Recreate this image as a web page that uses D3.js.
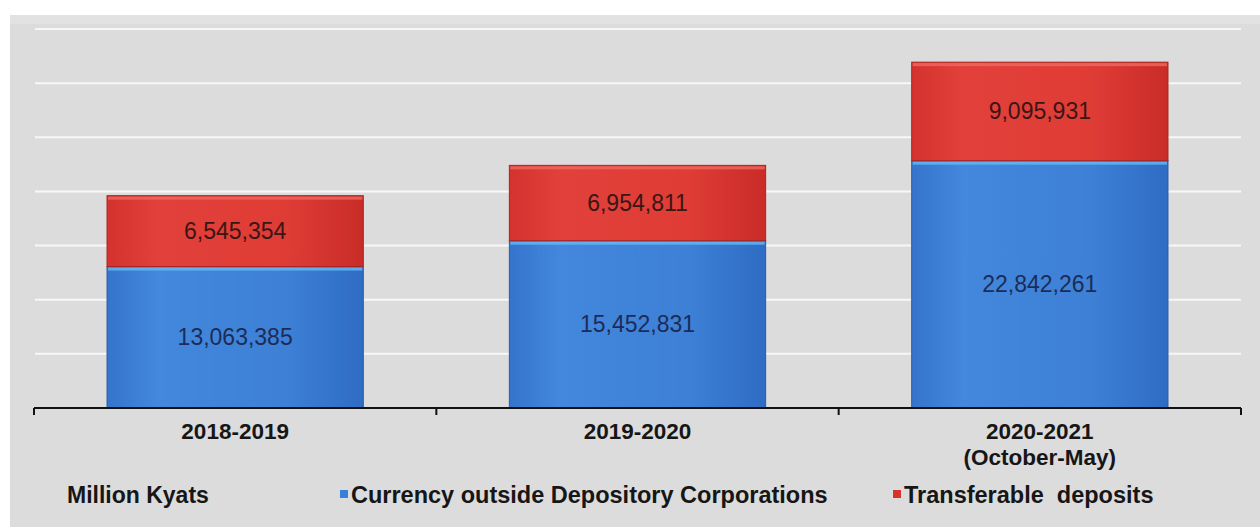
<!DOCTYPE html>
<html>
<head>
<meta charset="utf-8">
<script src="https://cdn.jsdelivr.net/npm/d3@7"></script>
<style>
  body { margin: 0; background: #ffffff; }
  text { font-family: Arial, "Liberation Sans", sans-serif; }
</style>
</head>
<body>
<script>
const categories = ["2018-2019", "2019-2020", "2020-2021"];
const categorySub = ["", "", "(October-May)"];
const currency = [13063385, 15452831, 22842261];
const transferable = [6545354, 6954811, 9095931];
const yTicks = [5000000, 10000000, 15000000, 20000000, 25000000, 30000000, 35000000];
const seriesNames = ["Currency outside Depository Corporations", "Transferable  deposits"];
const unitLabel = "Million Kyats";

const width = 1260,
    height = 527;

const svg = d3.select("body").append("svg")
    .attr("width", width)
    .attr("height", height);

const defs = svg.append("defs");

const blueGrad = defs.append("linearGradient")
    .attr("id", "blueGrad")
    .attr("x1", 0).attr("y1", 0).attr("x2", 1).attr("y2", 0);
blueGrad.append("stop").attr("offset", "0%").attr("stop-color", "#3574cc");
blueGrad.append("stop").attr("offset", "20%").attr("stop-color", "#4388dc");
blueGrad.append("stop").attr("offset", "70%").attr("stop-color", "#3d80d6");
blueGrad.append("stop").attr("offset", "100%").attr("stop-color", "#2f6cc4");

const redGrad = defs.append("linearGradient")
    .attr("id", "redGrad")
    .attr("x1", 0).attr("y1", 0).attr("x2", 1).attr("y2", 0);
redGrad.append("stop").attr("offset", "0%").attr("stop-color", "#d4322e");
redGrad.append("stop").attr("offset", "20%").attr("stop-color", "#e2403a");
redGrad.append("stop").attr("offset", "70%").attr("stop-color", "#df3c36");
redGrad.append("stop").attr("offset", "100%").attr("stop-color", "#c92c28");

// grey panel
svg.append("rect")
    .attr("x", 10)
    .attr("y", 15)
    .attr("width", width - 10)
    .attr("height", height - 15)
    .attr("fill", "#dcdcdc");

svg.append("rect")
    .attr("x", 10)
    .attr("y", 15)
    .attr("width", width - 10)
    .attr("height", 9)
    .attr("fill", "#e2e2e2");

const x = d3.scaleBand()
    .domain(categories)
    .range([34, 1241])
    .paddingInner(0.363)
    .paddingOuter(0.1815);

const y = d3.scaleLinear()
    .domain([0, 35000000])
    .range([408, 29]);

const step = x.step();

// gridlines
svg.append("g")
    .selectAll("line")
    .data(yTicks)
    .enter().append("line")
    .attr("x1", 35)
    .attr("x2", 1241)
    .attr("y1", d => y(d))
    .attr("y2", d => y(d))
    .attr("stroke", "#f7f7f7")
    .attr("stroke-width", 2);

const rows = categories.map((c, i) => ({cat: c, currency: currency[i], transferable: transferable[i]}));
const stacked = d3.stack().keys(["currency", "transferable"])(rows);
const fills = {currency: "url(#blueGrad)", transferable: "url(#redGrad)"};
const edges = {currency: "#2a5aa8", transferable: "#a82520"};
const highlight = {currency: "#6ab8f4", transferable: "#ee6a62"};
const labelColor = {currency: "#1c2c58", transferable: "#3a1614"};

const layers = svg.append("g")
    .selectAll("g")
    .data(stacked)
    .enter().append("g");

layers.selectAll("rect.bar")
    .data(d => d.map(p => ({key: d.key, p: p})))
    .enter().append("rect")
    .attr("class", "bar")
    .attr("x", d => x(d.p.data.cat))
    .attr("width", x.bandwidth())
    .attr("y", d => y(d.p[1]))
    .attr("height", d => y(d.p[0]) - y(d.p[1]))
    .attr("fill", d => fills[d.key])
    .attr("stroke", d => edges[d.key])
    .attr("stroke-width", 1);

// top highlight strip on each segment
layers.selectAll("rect.hl")
    .data(d => d.map(p => ({key: d.key, p: p})))
    .enter().append("rect")
    .attr("class", "hl")
    .attr("x", d => x(d.p.data.cat) + 1)
    .attr("width", x.bandwidth() - 2)
    .attr("y", d => y(d.p[1]) + 1)
    .attr("height", 3)
    .attr("fill", d => highlight[d.key])
    .attr("opacity", 0.8);

layers.selectAll("text")
    .data(d => d.map(p => ({key: d.key, p: p})))
    .enter().append("text")
    .attr("x", d => x(d.p.data.cat) + x.bandwidth() / 2)
    .attr("y", d => (y(d.p[0]) + y(d.p[1])) / 2)
    .attr("dy", "0.35em")
    .attr("text-anchor", "middle")
    .style("font-size", "23px")
    .style("fill", d => labelColor[d.key])
    .text(d => d3.format(",")(d.p.data[d.key]));

// x axis
const axis = svg.append("g");
axis.append("line")
    .attr("x1", 34)
    .attr("x2", 1241)
    .attr("y1", 408)
    .attr("y2", 408)
    .attr("stroke", "#111")
    .attr("stroke-width", 2);

const tickXs = categories.map(c => x(c) - x.paddingInner() * step / 2)
    .concat([x(categories[categories.length - 1]) + x.bandwidth() + x.paddingInner() * step / 2]);

axis.selectAll("line.tick")
    .data(tickXs)
    .enter().append("line")
    .attr("class", "tick")
    .attr("x1", d => d)
    .attr("x2", d => d)
    .attr("y1", 408)
    .attr("y2", 415)
    .attr("stroke", "#111")
    .attr("stroke-width", 2);

// category labels, second line as a separate text
axis.selectAll("text.cat")
    .data(categories)
    .enter().append("text")
    .attr("class", "cat")
    .attr("x", d => x(d) + x.bandwidth() / 2)
    .attr("y", 439)
    .attr("text-anchor", "middle")
    .style("font-size", "22.5px")
    .style("font-weight", "bold")
    .style("fill", "#161616")
    .text(d => d);

axis.selectAll("text.sub")
    .data(categories.filter((d, i) => categorySub[i] !== ""))
    .enter().append("text")
    .attr("class", "sub")
    .attr("x", d => x(d) + x.bandwidth() / 2)
    .attr("y", 465)
    .attr("text-anchor", "middle")
    .style("font-size", "22.5px")
    .style("font-weight", "bold")
    .style("fill", "#161616")
    .text(d => categorySub[categories.indexOf(d)]);

// legend
const legend = svg.append("g");

legend.append("text")
    .attr("x", 67)
    .attr("y", 503)
    .style("font-size", "23px")
    .style("font-weight", "bold")
    .style("fill", "#161616")
    .text(unitLabel);

const legendX = [340, 893];
const legendColors = ["#3a7fd5", "#d8322d"];

const items = legend.selectAll("g.item")
    .data(seriesNames)
    .enter().append("g")
    .attr("class", "item")
    .attr("transform", (d, i) => `translate(${legendX[i]}, 0)`);

items.append("rect")
    .attr("x", 0)
    .attr("y", 490)
    .attr("width", 8)
    .attr("height", 8)
    .style("fill", (d, i) => legendColors[i]);

items.append("text")
    .attr("x", 11)
    .attr("y", 503)
    .style("font-size", "23.5px")
    .style("font-weight", "bold")
    .style("fill", "#161616")
    .style("white-space", "pre")
    .attr("xml:space", "preserve")
    .text(d => d);
</script>
</body>
</html>
